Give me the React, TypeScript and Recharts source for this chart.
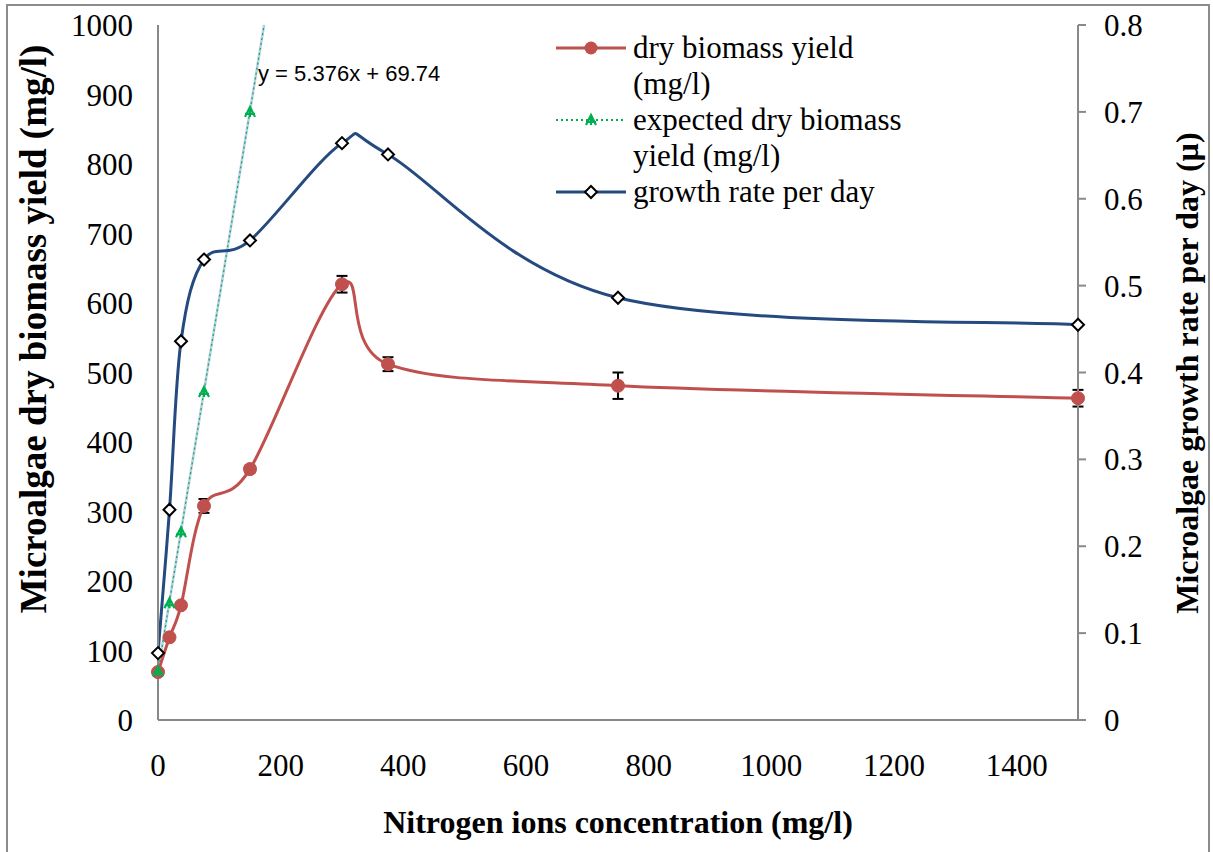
import React from 'react';
import { LineChart, Line, XAxis, YAxis, ErrorBar } from 'recharts';

// Nitrogen ion concentrations (mg/l)
const nitrogen = [0, 18.75, 37.5, 75, 150, 300, 375, 750, 1500];
// Dry biomass yield (mg/l) and its error (±)
const dryBiomass = [69, 119, 165, 308, 361, 627, 512, 481, 463];
const dryBiomassErr = [2, 3, 3, 10, 5, 12, 10, 19, 12];
// Growth rate per day (µ)
const growthRate = [0.077, 0.242, 0.436, 0.53, 0.552, 0.664, 0.651, 0.486, 0.455];
// Expected dry biomass (mg/l)
const expectedN = [0, 18.75, 37.5, 75, 150];
const expectedBiomass = [69.74, 168, 270, 472, 875];
// Linear trendline end points (y = 5.376x + 69.74)
const trendN = [0, 173];
const trendY = [69.74, 1000];

const xTicks = [0, 200, 400, 600, 800, 1000, 1200, 1400];
const leftTicks = [0, 100, 200, 300, 400, 500, 600, 700, 800, 900, 1000];
const rightTicks = [0, 0.1, 0.2, 0.3, 0.4, 0.5, 0.6, 0.7, 0.8];

const RED = '#C0504D';
const BLUE = '#254A7F';
const GREEN = '#00B050';
const AXIS = '#898989';
const SERIF = 'Liberation Serif';

const mainData = nitrogen.map((n, i) => ({
  n,
  dry: dryBiomass[i],
  err: dryBiomassErr[i],
  rate: growthRate[i],
}));
const expectedData = expectedN.map((n, i) => ({ n, expected: expectedBiomass[i] }));
const trendData = trendN.map((n, i) => ({ n, trend: trendY[i] }));

// Excel-like smoothed line (Catmull-Rom converted to bezier)
const excelSmooth = (context: any) => {
  let pts: number[][] = [];
  return {
    areaStart() {},
    areaEnd() {},
    lineStart() {
      pts = [];
    },
    point(x: number, y: number) {
      pts.push([+x, +y]);
    },
    lineEnd() {
      if (!pts.length) return;
      context.moveTo(pts[0][0], pts[0][1]);
      for (let i = 0; i < pts.length - 1; i++) {
        const p0 = pts[i - 1] || pts[i];
        const p1 = pts[i];
        const p2 = pts[i + 1];
        const p3 = pts[i + 2] || p2;
        context.bezierCurveTo(
          p1[0] + (p2[0] - p0[0]) / 6,
          p1[1] + (p2[1] - p0[1]) / 6,
          p2[0] - (p3[0] - p1[0]) / 6,
          p2[1] - (p3[1] - p1[1]) / 6,
          p2[0],
          p2[1]
        );
      }
    },
  };
};

const DiamondDot = (props: any) => {
  const { cx, cy, index } = props;
  if (cx == null || cy == null) return <g key={index} />;
  return (
    <path
      key={index}
      d={`M${cx},${cy - 6} L${cx + 6},${cy} L${cx},${cy + 6} L${cx - 6},${cy} Z`}
      fill="#fff"
      stroke="#000"
      strokeWidth={2}
    />
  );
};

const StarDot = (props: any) => {
  const { cx, cy, index } = props;
  if (cx == null || cy == null) return <g key={index} />;
  return (
    <path
      key={index}
      d={`M${cx - 5},${cy + 5} L${cx},${cy - 5} L${cx + 5},${cy + 5} M${cx - 5},${cy + 2} L${cx + 5},${cy + 2} M${cx},${cy - 5} L${cx},${cy + 5}`}
      fill="none"
      stroke={GREEN}
      strokeWidth={2.2}
    />
  );
};

// tick renderers (serif text)
const makeTick = (anchor: string, dy: string, fmt?: (v: number) => string) => (props: any) => {
  const { x, y, payload } = props;
  const v = payload.value;
  return (
    <text
      x={x}
      y={y}
      dy={dy}
      textAnchor={anchor}
      fill="#000"
      style={{ fontFamily: '"Liberation Serif", serif', fontSize: 31 }}
    >
      {fmt ? fmt(v) : String(v)}
    </text>
  );
};
const XTick = makeTick('middle', '0.71em');
const LeftTick = makeTick('end', '0.355em');
const RightTick = makeTick('start', '0.355em', (v) => (v === 0 ? '0' : v.toFixed(1)));

const legendItems = [
  { lines: ['dry biomass yield', '(mg/l)'], kind: 'red' },
  { lines: ['expected dry biomass', 'yield (mg/l)'], kind: 'green' },
  { lines: ['growth rate per day'], kind: 'blue' },
];

const LegendIcon = ({ kind }: { kind: string }) => (
  <svg width={70} height={20} style={{ display: 'block' }}>
    {kind === 'red' && (
      <>
        <line x1={0} y1={10} x2={70} y2={10} stroke={RED} strokeWidth={3} />
        <circle cx={35} cy={10} r={6.5} fill={RED} />
      </>
    )}
    {kind === 'green' && (
      <>
        <line x1={0} y1={10} x2={70} y2={10} stroke={GREEN} strokeWidth={2} strokeDasharray="2 3" />
        <StarDot cx={35} cy={10} index={0} />
      </>
    )}
    {kind === 'blue' && (
      <>
        <line x1={0} y1={10} x2={70} y2={10} stroke={BLUE} strokeWidth={3} />
        <DiamondDot cx={35} cy={10} index={0} />
      </>
    )}
  </svg>
);

const ChartLegend = () => (
  <div
    style={{
      position: 'absolute',
      left: 556,
      top: 30,
      fontFamily: SERIF,
      fontSize: 31,
      lineHeight: '36px',
      color: '#000',
    }}
  >
    {legendItems.map((item) => (
      <div key={item.kind} style={{ display: 'flex', alignItems: 'flex-start' }}>
        <div style={{ width: 77, paddingTop: 8 }}>
          <LegendIcon kind={item.kind} />
        </div>
        <div>
          {item.lines.map((l) => (
            <div key={l} style={{ whiteSpace: 'nowrap' }}>
              {l}
            </div>
          ))}
        </div>
      </div>
    ))}
  </div>
);

export default function App() {
  return (
    <div style={{ position: 'relative', width: 1213, height: 852, overflow: 'hidden', background: '#fff' }}>
      <style>{'body{margin:0}'}</style>
      {/* outer chart border */}
      <div
        style={{
          position: 'absolute',
          left: 6,
          top: 4,
          width: 1200,
          height: 900,
          border: '2px solid #8c8c8c',
        }}
      />
      <LineChart width={1213} height={852} margin={{ top: 25, right: 0, bottom: 0, left: 0 }}>
        <XAxis
          type="number"
          dataKey="n"
          domain={[0, 1500]}
          ticks={xTicks}
          interval={0}
          height={132}
          tickLine={false}
          tickSize={0}
          tickMargin={34}
          axisLine={{ stroke: AXIS, strokeWidth: 2 }}
          tick={XTick}
          label={{
            content: () => (
              <text x={618} y={833} textAnchor="middle" fontFamily={SERIF} fontSize={32} fontWeight="bold" fill="#000">
                Nitrogen ions concentration (mg/l)
              </text>
            ),
          }}
        />
        <YAxis
          yAxisId="left"
          domain={[0, 1000]}
          ticks={leftTicks}
          interval={0}
          width={158}
          tickLine={false}
          tickSize={0}
          tickMargin={25}
          axisLine={{ stroke: AXIS, strokeWidth: 2 }}
          tick={LeftTick}
          label={{
            content: () => (
              <text
                x={33}
                y={329}
                transform="rotate(-90 33 329)"
                textAnchor="middle"
                dominantBaseline="central"
                fontFamily={SERIF}
                fontSize={37}
                fontWeight="bold"
                fill="#000"
              >
                Microalgae dry biomass yield (mg/l)
              </text>
            ),
          }}
        />
        <YAxis
          yAxisId="right"
          orientation="right"
          domain={[0, 0.8]}
          ticks={rightTicks}
          interval={0}
          width={135}
          tickSize={8}
          tickMargin={18}
          tickLine={{ stroke: AXIS, strokeWidth: 2 }}
          axisLine={{ stroke: AXIS, strokeWidth: 2 }}
          tick={RightTick}
          label={{
            content: () => (
              <text
                x={1187}
                y={373}
                transform="rotate(-90 1187 373)"
                textAnchor="middle"
                dominantBaseline="central"
                fontFamily={SERIF}
                fontSize={32}
                fontWeight="bold"
                fill="#000"
              >
                Microalgae growth rate per day (µ)
              </text>
            ),
          }}
        />
        <Line
          yAxisId="left"
          data={trendData}
          dataKey="trend"
          type="linear"
          stroke="#B9CDE5"
          strokeWidth={2.5}
          dot={false}
          activeDot={false}
          isAnimationActive={false}
        />
        <Line
          yAxisId="left"
          data={trendData}
          dataKey="trend"
          type="linear"
          stroke={GREEN}
          strokeWidth={1.2}
          strokeDasharray="2 3"
          dot={false}
          activeDot={false}
          isAnimationActive={false}
        />
        <Line
          yAxisId="left"
          data={mainData}
          dataKey="dry"
          type={excelSmooth as any}
          stroke={RED}
          strokeWidth={3}
          dot={{ r: 6.5, fill: RED, stroke: RED, strokeWidth: 1 }}
          activeDot={false}
          isAnimationActive={false}
        >
          <ErrorBar dataKey="err" direction="y" width={5.5} stroke="#000" strokeWidth={2} />
        </Line>
        <Line
          yAxisId="left"
          data={expectedData}
          dataKey="expected"
          type="linear"
          stroke="none"
          dot={StarDot}
          activeDot={false}
          isAnimationActive={false}
        />
        <Line
          yAxisId="right"
          data={mainData}
          dataKey="rate"
          type={excelSmooth as any}
          stroke={BLUE}
          strokeWidth={3}
          dot={DiamondDot}
          activeDot={false}
          isAnimationActive={false}
        />
      </LineChart>
      <ChartLegend />
      <div
        style={{
          position: 'absolute',
          left: 258,
          top: 61,
          fontFamily: 'Liberation Sans',
          fontSize: 22,
          color: '#000',
          whiteSpace: 'nowrap',
        }}
      >
        y = 5.376x + 69.74
      </div>
    </div>
  );
}
